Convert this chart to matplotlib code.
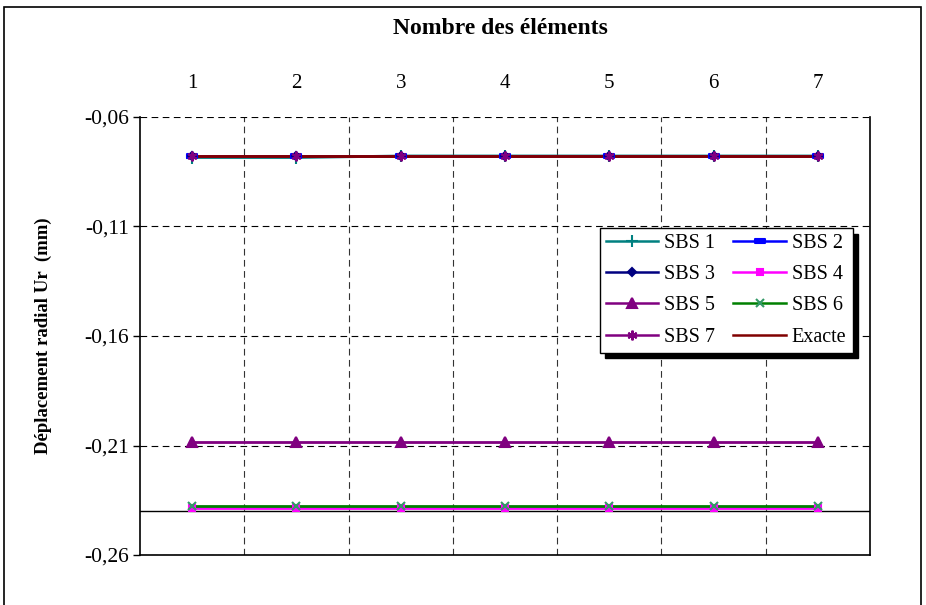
import matplotlib
matplotlib.use("Agg")
import matplotlib.pyplot as plt
from matplotlib.lines import Line2D
from matplotlib.patches import Rectangle
from matplotlib.path import Path

# valeurs
elements = [1, 2, 3, 4, 5, 6, 7]
sbs1 = [-0.0785, -0.0785, -0.0778, -0.0778, -0.0778, -0.0778, -0.0778]
sbs2 = [-0.0778, -0.0778, -0.0778, -0.0778, -0.0778, -0.0778, -0.0778]
sbs3 = [-0.0778, -0.0778, -0.0778, -0.0778, -0.0778, -0.0778, -0.0778]
sbs4 = [-0.2386, -0.2386, -0.2386, -0.2386, -0.2386, -0.2386, -0.2386]
sbs5 = [-0.2082, -0.2082, -0.2082, -0.2082, -0.2082, -0.2082, -0.2082]
sbs6 = [-0.2375, -0.2375, -0.2375, -0.2375, -0.2375, -0.2375, -0.2375]
sbs7 = [-0.0778, -0.0778, -0.0778, -0.0778, -0.0778, -0.0778, -0.0778]
exacte = [-0.0778, -0.0778, -0.0778, -0.0778, -0.0778, -0.0778, -0.0778]

y_ticks = [-0.26, -0.21, -0.16, -0.11, -0.06]
y_labels = ["-0,26", "-0,21", "-0,16", "-0,11", "-0,06"]
x_labels = ["1", "2", "3", "4", "5", "6", "7"]

plt.rcParams["font.family"] = ["Liberation Serif", "DejaVu Serif"]

dash_marker = Path([(-1, -0.5), (1, -0.5), (1, 0.5), (-1, 0.5), (-1, -0.5)],
                   [Path.MOVETO, Path.LINETO, Path.LINETO, Path.LINETO, Path.CLOSEPOLY])

series = [
    ("SBS 1", sbs1, "#008080", "+", 8, "#008080"),
    ("SBS 2", sbs2, "#0000FF", dash_marker, 7, "#0000FF"),
    ("SBS 3", sbs3, "#000080", "D", 4.5, "#000080"),
    ("SBS 4", sbs4, "#FF00FF", "s", 4.5, "#FF00FF"),
    ("SBS 5", sbs5, "#800080", "^", 7, "#800080"),
    ("SBS 6", sbs6, "#008000", "x", 6, "#339966"),
    ("SBS 7", sbs7, "#800080", (6, 2, 0), 7, "#800080"),
    ("Exacte", exacte, "#800000", None, 0, "#800000"),
]

fig = plt.figure(figsize=(9.26, 6.05), dpi=100)
ax = fig.add_axes([140 / 926, 50 / 605, 730 / 926, 438 / 605])

handles = []
for name, vals, col, mk, ms, mcol in series:
    z = 2.5 if name == "Exacte" else 2
    ax.plot(elements, vals, color=col, lw=2, zorder=z)
    if mk is not None:
        ax.plot(elements, vals, ls="none", marker=mk, ms=ms, color=mcol,
                mec=mcol, mew=1.5, zorder=3)
    handles.append(Line2D([], [], color=col, lw=1.8, marker=mk, ms=ms,
                          mfc=mcol, mec=mcol, mew=1.5))

ax.axhline(-0.24, color="black", lw=1, zorder=1.5)

ax.set_xlim(0.5, 7.5)
ax.set_ylim(-0.26, -0.06)
ax.set_yticks(y_ticks)
ax.set_yticklabels(y_labels, fontsize=15.5)
ax.xaxis.tick_top()
ax.set_xticks(elements)
ax.set_xticklabels(x_labels, fontsize=15)
ax.set_xticks([1.5, 2.5, 3.5, 4.5, 5.5, 6.5], minor=True)
ax.tick_params(axis="x", which="both", length=0, pad=17)
ax.tick_params(axis="y", length=5, width=1, direction="out", pad=3, colors="black")

ax.grid(axis="y", which="major", ls=(0, (6, 4)), color="black", lw=0.8)
ax.grid(axis="x", which="minor", ls=(0, (6, 4)), color="#333333", lw=0.8)
ax.grid(axis="x", which="major", visible=False)

ax.spines["top"].set_visible(False)
for s in ["left", "right", "bottom"]:
    ax.spines[s].set_linewidth(1.2)
    ax.spines[s].set_color("black")

fig.text(500 / 926, 1 - 28 / 605, "Nombre des éléments", ha="center", va="center",
         fontsize=17, fontweight="bold")
fig.text(43 / 926, 1 - 336 / 605, "Déplacement radial Ur  (mm)", ha="center",
         va="center", rotation=90, fontsize=13.5, fontweight="bold")

# ordre ligne par ligne comme dans l'original
order = [0, 2, 4, 6, 1, 3, 5, 7]
leg = ax.legend([handles[i] for i in order], [series[i][0] for i in order],
                ncol=2, loc="upper left",
                bbox_to_anchor=(0.630, 0.7466), fontsize=14.5, frameon=True,
                fancybox=False, edgecolor="black", framealpha=1,
                handlelength=2.6, labelspacing=0.6, columnspacing=0.9,
                handletextpad=0.3, borderpad=0.3, borderaxespad=0,
                shadow={"ox": 4, "oy": -4, "color": "black", "alpha": 1})
leg.get_frame().set_linewidth(1)
leg.set_zorder(5)

fig.patches.append(Rectangle((4 / 926, -0.1), 917 / 926, 1.1 - 7 / 605,
                             transform=fig.transFigure, fill=False,
                             ec="black", lw=1.2))

fig.savefig("out.png", dpi=100)
